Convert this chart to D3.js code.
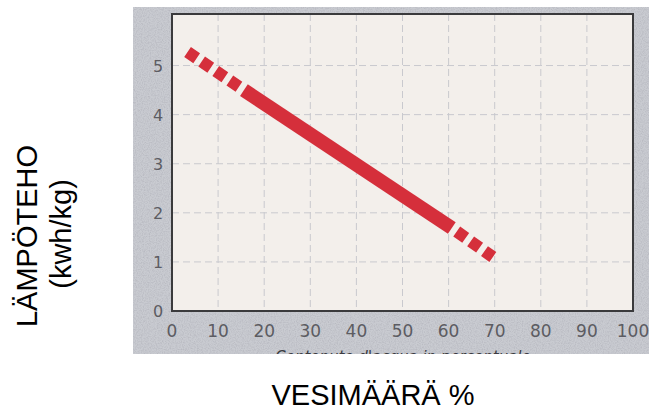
<!DOCTYPE html>
<html>
<head>
<meta charset="utf-8">
<script src="https://cdn.jsdelivr.net/npm/d3@7"></script>
<style>
  body { margin: 0; background: #fff; }
  svg { display: block; }
</style>
</head>
<body>
<svg width="649" height="410"></svg>
<script>
// values
var xTicks = [0, 10, 20, 30, 40, 50, 60, 70, 80, 90, 100]
var yTicks = [0, 1, 2, 3, 4, 5]
var solidX = [15.6, 60.7]
var solidY = [4.5, 1.69]
var dashTopX = [15.6, 3.3]
var dashTopY = [4.5, 5.28]
var dashBottomX = [60.7, 69.6]
var dashBottomY = [1.69, 1.1]
var xTitle = "Contenuto d'acqua in percentuale"

function renderViz() {
    var svg = d3.select("svg")
    var xScale = d3.scaleLinear().domain([0, 100]).range([172, 633])
    var yScale = d3.scaleLinear().domain([0, 6.05]).range([311, 14])

    var defs = svg.append("defs")
    var f = defs.append("filter").attr("id", "grain").attr("x", 0).attr("y", 0).attr("width", "100%").attr("height", "100%")
    f.append("feTurbulence").attr("type", "fractalNoise").attr("baseFrequency", 0.85).attr("numOctaves", 2).attr("seed", 3)
    f.append("feColorMatrix").attr("type", "matrix")
        .attr("values", "0 0 0 0 0.3  0 0 0 0 0.3  0 0 0 0 0.35  1.2 0 0 0 -0.45")
    f.append("feComposite").attr("in2", "SourceGraphic").attr("operator", "in")

    defs.append("clipPath").attr("id", "scan")
        .append("rect").attr("x", 133).attr("y", 7).attr("width", 516).attr("height", 347)

    // scanned grey card
    svg.append("rect").attr("x", 133).attr("y", 7).attr("width", 516).attr("height", 347).attr("fill", "#c9cbd1")
    svg.append("rect").attr("x", 133).attr("y", 7).attr("width", 516).attr("height", 347)
        .attr("fill", "#fff").attr("filter", "url(#grain)").attr("opacity", 0.55)

    // plot paper
    svg.append("rect")
        .attr("x", xScale(0)).attr("y", yScale(6.05))
        .attr("width", xScale(100) - xScale(0)).attr("height", yScale(0) - yScale(6.05))
        .attr("fill", "#f3efeb")

    var grid = svg.append("g").attr("stroke", "#c9c9ce").attr("stroke-width", 1).attr("stroke-dasharray", "7,4")
    grid.selectAll(".gx").data(xTicks.filter(d => d > 0 && d < 100)).enter().append("line")
        .attr("x1", d => xScale(d)).attr("x2", d => xScale(d))
        .attr("y1", yScale(6.05)).attr("y2", yScale(0))
    grid.selectAll(".gy").data(yTicks.filter(d => d > 0)).enter().append("line")
        .attr("x1", xScale(0)).attr("x2", xScale(100))
        .attr("y1", d => yScale(d)).attr("y2", d => yScale(d))

    svg.append("rect")
        .attr("x", xScale(0)).attr("y", yScale(6.05))
        .attr("width", xScale(100) - xScale(0)).attr("height", yScale(0) - yScale(6.05))
        .attr("fill", "none").attr("stroke", "#3a3a3c").attr("stroke-width", 2)

    var lineGen = d3.line().x(d => xScale(d[0])).y(d => yScale(d[1]))
    var red = "#d52f3b"

    svg.append("path").attr("d", lineGen(d3.zip(solidX, solidY)))
        .attr("stroke", red).attr("stroke-width", 14).attr("fill", "none")
    svg.selectAll(".dash").data([d3.zip(dashTopX, dashTopY), d3.zip(dashBottomX, dashBottomY)])
        .enter().append("path")
        .attr("d", d => lineGen(d))
        .attr("stroke", red).attr("stroke-width", 12).attr("fill", "none")
        .attr("stroke-dasharray", "11,6").attr("stroke-dashoffset", 11)

    // tick labels
    svg.selectAll(".xl").data(xTicks).enter().append("text")
        .attr("x", d => xScale(d)).attr("y", 337)
        .attr("text-anchor", "middle")
        .attr("font-family", "DejaVu Sans").attr("font-size", 17).attr("fill", "#5c5c62")
        .text(d => d)
    svg.selectAll(".yl").data(yTicks).enter().append("text")
        .attr("x", 158).attr("y", d => yScale(d) + 6)
        .attr("text-anchor", "middle")
        .attr("font-family", "DejaVu Sans").attr("font-size", 16).attr("fill", "#5c5c62")
        .text(d => d)

    // cut off italian title
    svg.append("text").attr("clip-path", "url(#scan)")
        .attr("x", 403).attr("y", 362).attr("text-anchor", "middle")
        .attr("font-family", "DejaVu Sans").attr("font-style", "italic").attr("font-size", 15).attr("fill", "#3a3a40")
        .text(xTitle)

    // finnish labels
    svg.append("text").attr("x", 373).attr("y", 405).attr("text-anchor", "middle")
        .attr("font-family", "Liberation Sans").attr("font-size", 29).attr("fill", "#000")
        .text("VESIMÄÄRÄ %")
    svg.append("text").attr("transform", "translate(37,236) rotate(-90)").attr("text-anchor", "middle")
        .attr("font-family", "Liberation Sans").attr("font-size", 29).attr("fill", "#000")
        .text("LÄMPÖTEHO")
    svg.append("text").attr("transform", "translate(71,234) rotate(-90)").attr("text-anchor", "middle")
        .attr("font-family", "Liberation Sans").attr("font-size", 29).attr("fill", "#000")
        .text("(kwh/kg)")
}

renderViz()
</script>
</body>
</html>
